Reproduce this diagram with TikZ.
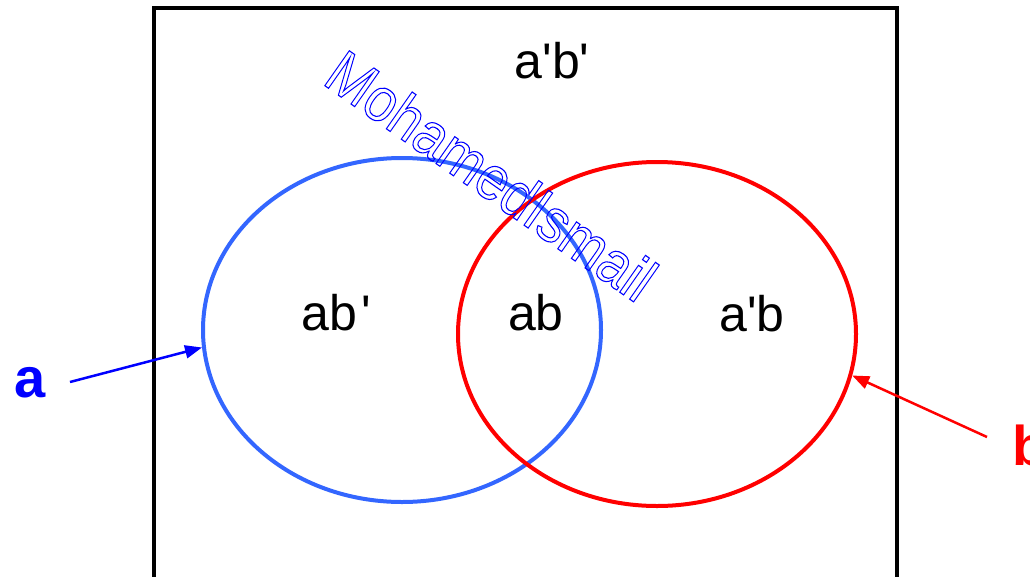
\documentclass[tikz,border=0pt]{standalone}
\usepackage{fontspec}
\setmainfont{Liberation Sans}
\newfontfamily\arialf{Liberation Sans}
\usetikzlibrary{shapes.geometric,arrows.meta}
\definecolor{setA}{HTML}{3366FF}
\definecolor{setB}{HTML}{FF0000}
\definecolor{lblA}{HTML}{0000FF}
\newcommand\outl[1]{\special{pdf:literal direct 1 Tr 1.1 w}#1\special{pdf:literal direct 0 Tr}}
\tikzset{
  setell/.style={ellipse, draw, line width=4pt, minimum width=398pt, minimum height=344pt, inner sep=0pt},
  region/.style={font=\arialf\fontsize{50}{50}\selectfont, anchor=base, inner sep=0pt},
  setlbl/.style={font=\arialf\bfseries\fontsize{56}{56}\selectfont, anchor=base, inner sep=0pt},
  ptr/.style={line width=2.5pt, -{Triangle[length=17pt,width=13pt]}}
}
\begin{document}
\begin{tikzpicture}[x=1pt,y=-1pt]
\useasboundingbox (0,0) rectangle (1030,576);
\clip (0,0) rectangle (1030,576);
\fill[white] (0,0) rectangle (1030,576);
\draw[line width=3.5pt] (154,600) -- (154,8) -- (897,8) -- (897,600);
\node[setell, setA] (A) at (402,330) {};
\node[setell, setB] (B) at (657,334) {};
\node[region] (n1) at (552,78) {a'b'};
\node[region, anchor=base west] (n2) at (301,330) {ab\hspace{5pt}'};
\node[region] (n3) at (536,330) {ab};
\node[region] (n4) at (752,331) {a'b};
\node[setlbl, lblA] (la) at (30,397) {a};
\node[setlbl, setB, anchor=base west] (lb) at (1012,465) {b};
\coordinate (sa) at (70,382);
\coordinate (sb) at (987,437);
\draw[ptr, lblA] (sa) -- (A.185);
\draw[ptr, setB] (sb) -- (B.-12);
\node[rotate=-35, anchor=base west, text=blue, font=\arialf\fontsize{62}{62}\selectfont, inner sep=0pt] (wm) at (321,83) {\scalebox{0.88}[1]{\outl{MohamedIsmail}}};
\end{tikzpicture}
\end{document}
